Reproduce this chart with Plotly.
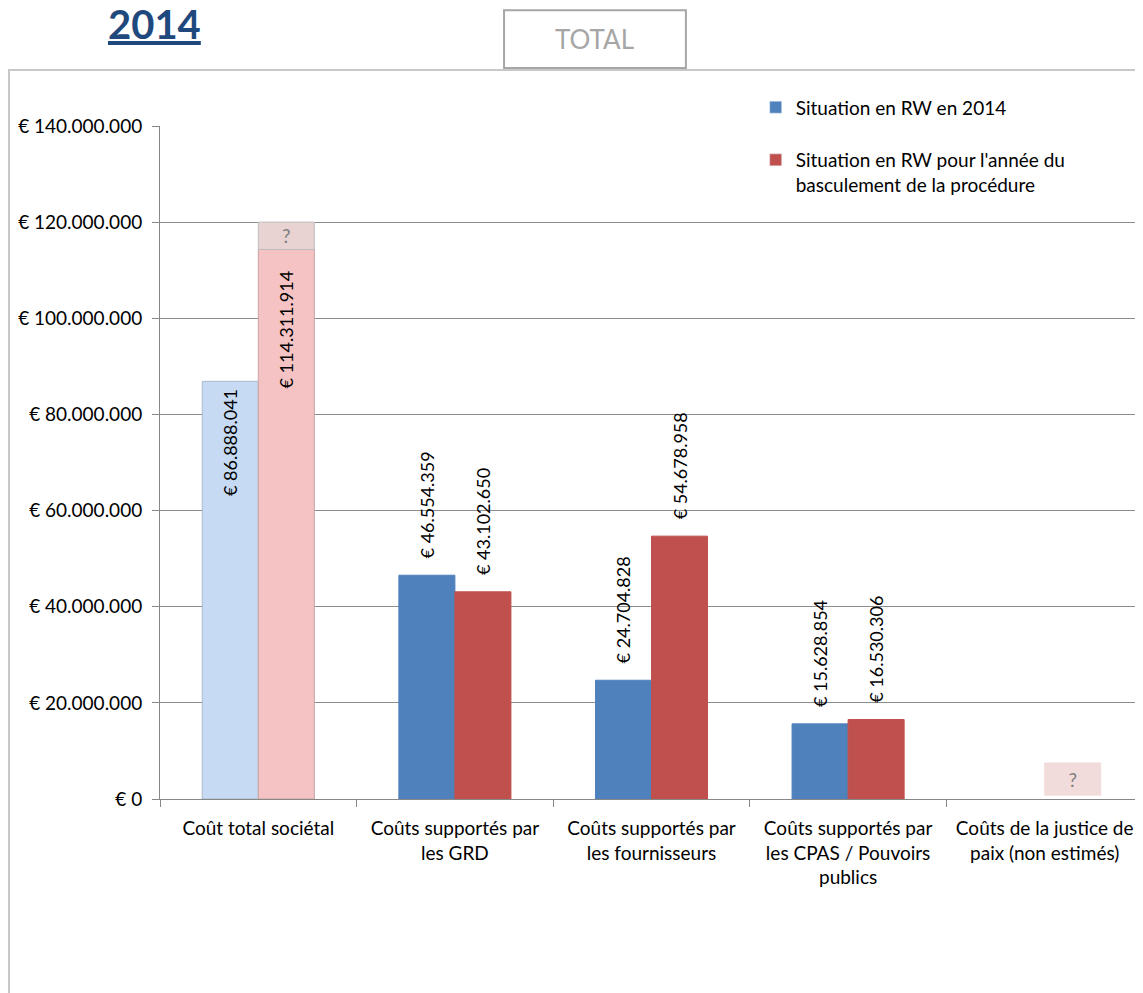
import plotly.graph_objects as go

# données du graphique
categories = ['Coût total sociétal',
              'Coûts supportés par<br>les GRD',
              'Coûts supportés par<br>les fournisseurs',
              'Coûts supportés par<br>les CPAS / Pouvoirs<br>publics',
              'Coûts de la justice de<br>paix (non estimés)']
situation_2014 = [86888041, 46554359, 24704828, 15628854, None]
situation_basculement = [114311914, 43102650, 54678958, 16530306, None]
# parts non estimées ("?")
inconnu_base = [114311914, None, None, None, 800000]
inconnu_hauteur = [5700000, None, None, None, 6700000]

tick_vals = [0, 20000000, 40000000, 60000000, 80000000, 100000000, 120000000, 140000000]
tick_text = ['€ 0', '€ 20.000.000', '€ 40.000.000', '€ 60.000.000', '€ 80.000.000',
             '€ 100.000.000', '€ 120.000.000', '€ 140.000.000']

nom_2014 = 'Situation en RW en 2014'
nom_bascule = "Situation en RW pour l'année du<br>basculement de la procédure"

BLEU = '#4F81BD'
ROUGE = '#C0504D'
police = 'Lato, "Open Sans", sans-serif'


def fmt(v, dedans=False, pad=1):
    if v is None:
        return ''
    s = '€ ' + f'{v:,}'.replace(',', '.')
    # un peu d'espace entre l'étiquette et la barre
    return s + '\u00a0' * pad if dedans else '\u00a0\u00a0\u00a0' + s


fig = go.Figure()
fig.add_trace(go.Bar(
    x=categories, y=situation_2014, name=nom_2014, showlegend=False,
    offsetgroup='a',
    marker=dict(color=['#C6DBF3', BLEU, BLEU, BLEU, BLEU],
                line=dict(color=['#A9B9CC', BLEU, BLEU, BLEU, BLEU], width=1)),
    text=[fmt(v, i == 0) for i, v in enumerate(situation_2014)],
    textposition=['inside', 'outside', 'outside', 'outside', 'none'],
    insidetextanchor='end', textangle=-90, constraintext='none',
    textfont=dict(size=18, color='black', family=police),
    cliponaxis=False))
fig.add_trace(go.Bar(
    x=categories, y=situation_basculement, name=nom_bascule, showlegend=False,
    offsetgroup='b',
    marker=dict(color=['#F5C3C3', ROUGE, ROUGE, ROUGE, ROUGE],
                line=dict(color=['#C9A3A3', ROUGE, ROUGE, ROUGE, ROUGE], width=1)),
    text=[fmt(v, i == 0, 4) for i, v in enumerate(situation_basculement)],
    textposition=['inside', 'outside', 'outside', 'outside', 'none'],
    insidetextanchor='end', textangle=-90, constraintext='none',
    textfont=dict(size=18, color='black', family=police),
    cliponaxis=False))
fig.add_trace(go.Bar(
    x=categories, y=inconnu_hauteur, base=inconnu_base,
    offsetgroup='b', showlegend=False,
    marker=dict(color=['#E8D2D2', '#F2DCDB', '#F2DCDB', '#F2DCDB', '#F2DCDB'],
                line=dict(color=['#BFBFBF', '#F2DCDB', '#F2DCDB', '#F2DCDB', '#F2DCDB'], width=1)),
    text=['?' if v else '' for v in inconnu_hauteur],
    textposition='inside', insidetextanchor='middle', textangle=0, constraintext='none',
    textfont=dict(size=19, color='#7F7F7F', family=police)))

# entrées de légende (couleurs pleines)
fig.add_trace(go.Bar(x=categories[:1], y=[None], name=nom_2014, marker_color=BLEU,
                     offsetgroup='a', legendgroup='a'))
fig.add_trace(go.Bar(x=categories[:1], y=[None], name=nom_bascule, marker_color=ROUGE,
                     offsetgroup='b', legendgroup='b'))

# la page ajoute 8px de marge autour de la figure
fig.update_layout(
    width=1135, height=985,
    margin=dict(l=152, r=0, t=118, b=194),
    paper_bgcolor='white', plot_bgcolor='white',
    barmode='group', bargap=0.43, bargroupgap=0,
    font=dict(family=police, size=19, color='black'),
    legend=dict(x=0.606, y=1.056, xanchor='left', yanchor='top', valign='top',
                bgcolor='rgba(0,0,0,0)', font=dict(size=19),
                tracegroupgap=25, itemwidth=30),
    xaxis=dict(showline=True, linecolor='#878787', ticks='outside', tickson='boundaries',
               ticklen=7, tickcolor='#878787', ticklabelstandoff=12, tickfont=dict(size=19)),
    yaxis=dict(range=[0, 140000000], tickvals=tick_vals, ticktext=tick_text,
               showgrid=True, gridcolor='#8C8C8C', showline=True, linecolor='#878787',
               ticks='outside', ticklen=7, tickcolor='#878787', zeroline=False,
               ticklabelstandoff=6, tickfont=dict(size=19)),
)

# cadre du graphique
fig.add_shape(type='rect', xref='paper', yref='paper',
              x0=-0.1536, x1=1.02, y0=-0.5, y1=1.0832,
              line=dict(color='#C8C8C8', width=2), layer='below')
# boîte TOTAL
fig.add_shape(type='rect', xref='paper', yref='paper',
              x0=0.35, x1=0.535, y0=1.086, y1=1.172,
              line=dict(color='#A6A6A6', width=2))
fig.add_annotation(text='TOTAL', xref='paper', yref='paper', x=0.4425, y=1.129,
                   xanchor='center', yanchor='middle',
                   showarrow=False, font=dict(size=26, color='#A6A6A6', family=police))
# titre
fig.add_annotation(text='<b><u>2014</u></b>', xref='paper', yref='paper', x=-0.006, y=1.151,
                   xanchor='center', yanchor='middle',
                   showarrow=False, font=dict(size=40, color='#1F497D', family=police))

fig.write_html("out.html")
